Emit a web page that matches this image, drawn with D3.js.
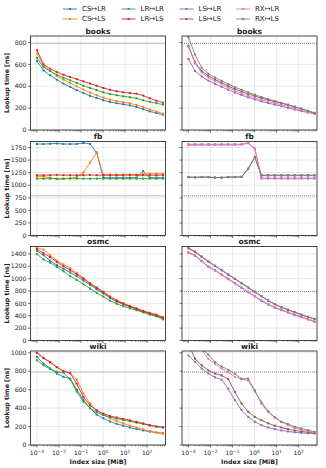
<!DOCTYPE html>
<html lang="en">
<head>
<meta charset="UTF-8">
<title>Lookup time vs index size</title>
<style>
  body { margin: 0; background: #fff; font-family: "DejaVu Sans", sans-serif; }
  svg text { fill: #222; }
</style>
</head>
<body>
<div id="chart"></div>
<script src="https://d3js.org/d3.v7.min.js"></script>
<script>
    // index sizes in MiB (x values, shared by every series)
    const indexSizes = [0.001, 0.002, 0.004, 0.008, 0.016, 0.032, 0.064, 0.128, 0.256, 0.512,
                        1.024, 2.048, 4.096, 8.192, 16.384, 32.768, 65.536, 131.072, 262.144, 524.288];

    const seriesNames = ["CS↦LR", "CS↦LS", "LR↦LR", "LR↦LS", "LS↦LR", "LS↦LS", "RX↦LR", "RX↦LS"];
    const seriesColors = ["#1f77b4", "#ff7f0e", "#2ca02c", "#d62728", "#9467bd", "#8c564b", "#e377c2", "#7f7f7f"];

    const datasets = ["books", "fb", "osmc", "wiki"];
    const yTicks = {
        books: [0, 200, 400, 600, 800],
        fb: [0, 250, 500, 750, 1000, 1250, 1500, 1750],
        osmc: [0, 200, 400, 600, 800, 1000, 1200, 1400],
        wiki: [0, 200, 400, 600, 800, 1000]
    };
    const yMax = { books: 860, fb: 1870, osmc: 1520, wiki: 1020 };
    const thresholdNs = 790;

    // lookup times [ns], one array per series, same order as seriesNames
    const books = [
        [630, 545, 500, 460, 425, 395, 365, 338, 313, 292, 272, 257, 245, 235, 225, 210, 190, 170, 155, 140],
        [700, 590, 540, 495, 460, 430, 400, 370, 342, 318, 296, 278, 265, 254, 244, 230, 210, 188, 168, 150],
        [660, 575, 540, 505, 478, 455, 430, 405, 385, 365, 345, 330, 318, 308, 300, 290, 272, 258, 245, 232],
        [730, 600, 560, 530, 505, 485, 465, 445, 425, 405, 385, 368, 355, 345, 338, 332, 315, 290, 268, 250],
        [650, 540, 490, 452, 422, 395, 368, 343, 320, 299, 280, 262, 246, 232, 218, 203, 187, 172, 160, 148],
        [770, 620, 540, 495, 462, 432, 402, 375, 352, 330, 310, 292, 275, 260, 245, 230, 212, 194, 175, 155],
        [760, 610, 525, 480, 448, 418, 388, 360, 336, 314, 294, 276, 260, 245, 231, 216, 198, 180, 164, 150],
        [850, 690, 570, 515, 480, 450, 420, 392, 368, 345, 323, 302, 283, 265, 248, 232, 214, 195, 175, 157]
    ];
    const fb = [
        [1820, 1820, 1825, 1830, 1820, 1820, 1820, 1840, 1820, 1650, 1150, 1150, 1150, 1150, 1150, 1150, 1280, 1150, 1150, 1150],
        [1170, 1170, 1150, 1120, 1130, 1140, 1160, 1250, 1450, 1650, 1210, 1210, 1210, 1210, 1210, 1210, 1220, 1230, 1230, 1230],
        [1130, 1130, 1130, 1130, 1130, 1130, 1130, 1130, 1130, 1130, 1130, 1130, 1130, 1130, 1130, 1130, 1130, 1130, 1130, 1130],
        [1200, 1200, 1200, 1205, 1200, 1200, 1200, 1200, 1205, 1200, 1200, 1200, 1200, 1200, 1205, 1200, 1200, 1200, 1200, 1200],
        [1815, 1815, 1815, 1815, 1815, 1815, 1815, 1815, 1815, 1840, 1730, 1140, 1140, 1140, 1140, 1140, 1140, 1140, 1140, 1140],
        [1160, 1155, 1160, 1160, 1150, 1150, 1160, 1160, 1165, 1330, 1560, 1200, 1200, 1200, 1200, 1200, 1200, 1200, 1200, 1200],
        [1795, 1795, 1800, 1800, 1800, 1800, 1800, 1800, 1805, 1835, 1720, 1130, 1130, 1130, 1130, 1130, 1130, 1130, 1130, 1130],
        [1165, 1160, 1165, 1165, 1155, 1155, 1165, 1165, 1170, 1320, 1550, 1190, 1190, 1190, 1190, 1190, 1190, 1190, 1190, 1190]
    ];
    const osmc = [
        [1450, 1380, 1290, 1220, 1160, 1100, 1040, 970, 900, 830, 760, 690, 630, 585, 545, 505, 465, 430, 400, 360],
        [1500, 1470, 1380, 1290, 1230, 1170, 1090, 1010, 930, 860, 790, 715, 655, 605, 560, 520, 480, 450, 420, 375],
        [1400, 1310, 1260, 1190, 1120, 1040, 980, 910, 840, 770, 710, 645, 595, 555, 520, 490, 455, 420, 390, 340],
        [1480, 1410, 1350, 1270, 1200, 1140, 1070, 1000, 920, 850, 780, 705, 645, 595, 555, 515, 475, 440, 410, 370],
        [1420, 1370, 1280, 1190, 1130, 1060, 990, 920, 850, 780, 710, 640, 580, 530, 490, 450, 410, 375, 340, 300],
        [1490, 1430, 1350, 1275, 1205, 1135, 1065, 995, 925, 855, 785, 715, 645, 585, 535, 495, 455, 415, 380, 345],
        [1430, 1380, 1290, 1200, 1140, 1070, 1000, 930, 860, 790, 720, 650, 590, 540, 500, 460, 420, 385, 350, 310],
        [1500, 1440, 1360, 1280, 1210, 1140, 1070, 1000, 930, 860, 790, 720, 650, 590, 540, 500, 460, 420, 385, 350]
    ];
    const wiki = [
        [955, 885, 830, 775, 740, 720, 600, 490, 400, 330, 290, 255, 230, 210, 190, 172, 158, 145, 135, 126],
        [1000, 940, 895, 845, 800, 785, 710, 560, 450, 380, 330, 290, 260, 235, 210, 190, 170, 150, 135, 125],
        [920, 865, 825, 795, 785, 715, 580, 470, 400, 355, 325, 302, 287, 272, 257, 243, 228, 212, 200, 190],
        [1000, 945, 900, 845, 800, 780, 665, 520, 430, 375, 340, 315, 298, 283, 268, 252, 235, 215, 200, 192],
        [970, 900, 830, 775, 735, 710, 610, 485, 380, 305, 252, 215, 190, 172, 158, 147, 138, 132, 127, 124],
        [1100, 935, 865, 810, 775, 755, 715, 575, 450, 360, 305, 268, 235, 210, 190, 172, 158, 147, 138, 130],
        [1250, 1120, 1030, 935, 880, 830, 790, 740, 715, 700, 580, 470, 370, 300, 250, 215, 185, 165, 150, 138],
        [1300, 1150, 1040, 981, 899, 852, 816, 773, 719, 719, 593, 449, 360, 299, 252, 227, 198, 180, 162, 144]
    ];
    const values = { books, fb, osmc, wiki };

    const xTickVals = [1e-3, 1e-2, 1e-1, 1, 10, 100];
    const xTickExps = ["−3", "−2", "−1", "0", "1", "2"];

    const width = 326, height = 468;
    const panelW = 135, panelH = 94;
    const colX = [30.5, 182];
    const rowY = [36, 141.5, 246.5, 351];

    const svg = d3.select("#chart").append("svg")
        .attr("width", width)
        .attr("height", height);

    const x = d3.scaleLog()
        .domain([Math.pow(10, -3.29), Math.pow(10, 2.83)])
        .range([0, panelW]);

    // minor tick positions (2..9 per decade) inside the x domain
    const minorTicks = [];
    for (let e = -4; e <= 3; e++) {
        for (let k = 2; k <= 9; k++) {
            const v = k * Math.pow(10, e);
            if (v >= x.domain()[0] && v <= x.domain()[1]) minorTicks.push(v);
        }
    }

    datasets.forEach((name, r) => {
        const y = d3.scaleLinear().domain([0, yMax[name]]).range([panelH, 0]);

        [0, 1].forEach(c => {
            const g = svg.append("g")
                .attr("transform", `translate(${colX[c]},${rowY[r]})`);

            // grid
            g.append("g").selectAll("line.gx")
                .data(xTickVals)
                .join("line")
                .attr("x1", d => x(d)).attr("x2", d => x(d))
                .attr("y1", 0).attr("y2", panelH)
                .attr("stroke", "#e3e3e3").attr("stroke-width", 0.8);
            g.append("g").selectAll("line.gy")
                .data(yTicks[name])
                .join("line")
                .attr("x1", 0).attr("x2", panelW)
                .attr("y1", d => y(d)).attr("y2", d => y(d))
                .attr("stroke", "#e3e3e3").attr("stroke-width", 0.8);

            // threshold line
            g.append("line")
                .attr("x1", 0).attr("x2", panelW)
                .attr("y1", y(thresholdNs)).attr("y2", y(thresholdNs))
                .attr("stroke", "#555").attr("stroke-width", 0.7)
                .attr("stroke-dasharray", "1,1");

            const clipId = `clip-${name}-${c}`;
            g.append("clipPath").attr("id", clipId)
                .append("rect").attr("width", panelW).attr("height", panelH);

            const plot = g.append("g").attr("clip-path", `url(#${clipId})`);
            const line = d3.line()
                .x((d, i) => x(indexSizes[i]))
                .y(d => y(d));

            const idx = c === 0 ? [0, 1, 2, 3] : [4, 5, 6, 7];
            idx.forEach(s => {
                const vals = values[name][s];
                plot.append("path")
                    .datum(vals)
                    .attr("d", line)
                    .attr("fill", "none")
                    .attr("stroke", seriesColors[s])
                    .attr("stroke-width", 0.9);
                plot.append("g").selectAll("rect")
                    .data(vals)
                    .join("rect")
                    .attr("x", (d, i) => x(indexSizes[i]) - 1)
                    .attr("y", d => y(d) - 1)
                    .attr("width", 2).attr("height", 2)
                    .attr("fill", seriesColors[s]);
            });

            // frame
            g.append("rect")
                .attr("width", panelW).attr("height", panelH)
                .attr("fill", "none").attr("stroke", "#333").attr("stroke-width", 0.9);

            // y ticks
            g.append("g").selectAll("line")
                .data(yTicks[name])
                .join("line")
                .attr("x1", -2.5).attr("x2", 0)
                .attr("y1", d => y(d)).attr("y2", d => y(d))
                .attr("stroke", "#333").attr("stroke-width", 0.7);
            if (c === 0) {
                g.append("g").selectAll("text")
                    .data(yTicks[name])
                    .join("text")
                    .attr("x", -4)
                    .attr("y", d => y(d))
                    .attr("dy", "0.35em")
                    .attr("text-anchor", "end")
                    .style("font-size", "6.2px")
                    .text(d => d);
            }

            // x ticks
            g.append("g").selectAll("line")
                .data(xTickVals)
                .join("line")
                .attr("x1", d => x(d)).attr("x2", d => x(d))
                .attr("y1", panelH).attr("y2", panelH + 2.5)
                .attr("stroke", "#333").attr("stroke-width", 0.7);
            g.append("g").selectAll("line")
                .data(minorTicks)
                .join("line")
                .attr("x1", d => x(d)).attr("x2", d => x(d))
                .attr("y1", panelH).attr("y2", panelH + 1.5)
                .attr("stroke", "#333").attr("stroke-width", 0.5);

            if (r === datasets.length - 1) {
                const lbl = g.append("g").selectAll("text")
                    .data(xTickVals)
                    .join("text")
                    .attr("x", d => x(d))
                    .attr("y", panelH + 9.5)
                    .attr("text-anchor", "middle")
                    .style("font-size", "6px");
                lbl.append("tspan").text("10");
                lbl.append("tspan")
                    .attr("dy", "-0.45em")
                    .style("font-size", "4.4px")
                    .text((d, i) => xTickExps[i]);

                g.append("text")
                    .attr("x", panelW / 2)
                    .attr("y", panelH + 18.5)
                    .attr("text-anchor", "middle")
                    .style("font-size", "6.3px")
                    .style("font-weight", "bold")
                    .text("Index size [MiB]");
            }

            // panel title
            g.append("text")
                .attr("x", panelW / 2)
                .attr("y", -2.5)
                .attr("text-anchor", "middle")
                .style("font-size", "7.5px")
                .style("font-weight", "bold")
                .text(name);
        });

        // y axis label
        svg.append("text")
            .attr("transform", `translate(9,${rowY[r] + panelH / 2}) rotate(-90)`)
            .attr("text-anchor", "middle")
            .style("font-size", "6.3px")
            .style("font-weight", "bold")
            .text("Lookup time [ns]");
    });

    // legend, two rows, column-major
    const legendX = [63, 121.5, 179.5, 236];
    const legendY = [9, 19];
    const legend = svg.append("g");
    seriesNames.forEach((s, i) => {
        const lx = legendX[Math.floor(i / 2)], ly = legendY[i % 2];
        legend.append("line")
            .attr("x1", lx).attr("x2", lx + 14)
            .attr("y1", ly).attr("y2", ly)
            .attr("stroke", seriesColors[i]).attr("stroke-width", 0.9);
        legend.append("rect")
            .attr("x", lx + 6).attr("y", ly - 1)
            .attr("width", 2).attr("height", 2)
            .attr("fill", seriesColors[i]);
        legend.append("text")
            .attr("x", lx + 19)
            .attr("y", ly)
            .attr("dy", "0.35em")
            .style("font-size", "7px")
            .text(s);
    });
</script>
</body>
</html>
